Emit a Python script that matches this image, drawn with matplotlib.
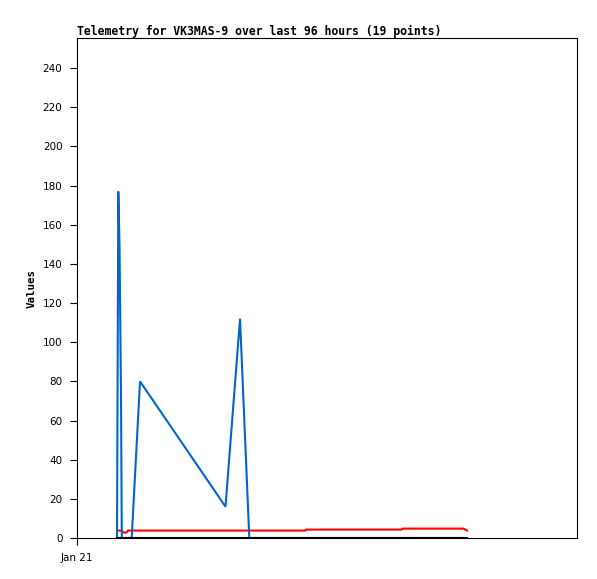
import matplotlib
matplotlib.use("Agg")
import matplotlib.pyplot as plt

# Hours since Jan 21 00:00 (x axis spans 96 hours)
hours = [7.68, 7.93, 8.16, 8.45, 8.60, 8.93, 9.50, 9.79, 10.50, 12.10,
         28.51, 31.30, 33.08, 43.78, 44.06, 62.30, 62.59, 74.17, 74.88]
blue_vals = [0, 177, 150, 72, 0, 0, 0, 0, 0, 80,
             16, 112, 0, 0, 0, 0, 0, 0, 0]
red_vals = [3.8, 3.8, 3.8, 3.8, 3.8, 2.8, 2.8, 3.8, 3.8, 3.8,
            3.8, 3.8, 3.8, 3.8, 4.3, 4.3, 4.8, 4.8, 3.8]
black_vals = [0] * 19

title = "Telemetry for VK3MAS-9 over last 96 hours (19 points)"
y_ticks = list(range(0, 241, 20))
x_tick_labels = ["Jan 21"]

fig = plt.figure(figsize=(5.97, 5.79), dpi=100)
ax = fig.add_axes([77/597, 41/579, 500/597, 500/579])

ax.plot(hours, red_vals, color="#ff0000", lw=1.5, zorder=2, solid_joinstyle="miter")
ax.plot(hours, blue_vals, color="#0066cc", lw=1.5, zorder=3, solid_joinstyle="miter")
ax.plot(hours, black_vals, color="#000000", lw=1.5, zorder=4)

ax.set_xlim(0, 96)
ax.set_ylim(0, 255.4)
ax.set_yticks(y_ticks)
ax.set_yticklabels([str(v) for v in y_ticks], fontsize=7.5, family="DejaVu Sans")
ax.set_xticks([0])
ax.set_xticklabels(x_tick_labels, fontsize=7.5, family="DejaVu Sans")
ax.tick_params(axis="both", direction="out", length=5, width=0.8, pad=5.5, color="black")

for s in ax.spines.values():
    s.set_linewidth(0.8)
    s.set_color("black")

ax.set_ylabel("Values", fontsize=7.8, family="DejaVu Sans Mono", fontweight="bold")
ax.yaxis.set_label_coords(-0.08, 0.5)

fig.text(77/597, 1 - 35/579, title, fontsize=8.3, family="DejaVu Sans Mono",
         fontweight="bold", ha="left", va="baseline")

fig.savefig("out.png", dpi=100)
